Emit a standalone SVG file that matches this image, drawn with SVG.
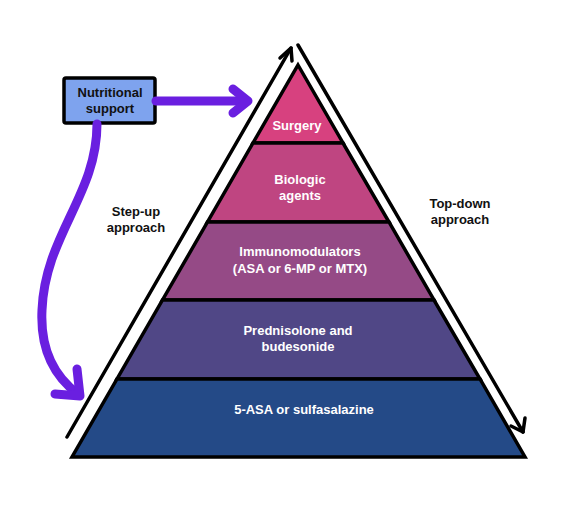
<svg xmlns="http://www.w3.org/2000/svg" width="587" height="519" viewBox="0 0 587 519">
<defs>
<style>
.lbl{font-family:"Liberation Sans",Arial,sans-serif;font-weight:bold;font-size:13px;text-anchor:middle}
.w{fill:#ffffff}
.k{fill:#111111}
.layer{stroke:#000;stroke-width:3.5;stroke-linejoin:miter}
.conn{fill:none;stroke:#000;stroke-width:3.5;stroke-linecap:round;stroke-linejoin:round}
.purple{fill:none;stroke:#6a1fe0;stroke-width:9;stroke-linecap:round;stroke-linejoin:round}
</style>
</defs>
<rect width="587" height="519" fill="#ffffff"/>
<g id="pyramid">
<g id="surgery">
<polygon class="layer" fill="#d7417f" points="298,65 343,143 253,143"/>
<text class="lbl w" x="297" y="130">Surgery</text>
</g>
<g id="biologic">
<polygon class="layer" fill="#bf4581" points="253,143 343,143 389,222 207.5,222"/>
<text class="lbl w" x="300" y="184">Biologic</text>
<text class="lbl w" x="300" y="200">agents</text>
</g>
<g id="immuno">
<polygon class="layer" fill="#954a86" points="207.5,222 389,222 434,300 162.5,300"/>
<text class="lbl w" x="300" y="256">Immunomodulators</text>
<text class="lbl w" x="300" y="273">(ASA or 6-MP or MTX)</text>
</g>
<g id="prednisolone">
<polygon class="layer" fill="#504786" points="162.5,300 434,300 480,379 117,379"/>
<text class="lbl w" x="298" y="335">Prednisolone and</text>
<text class="lbl w" x="298" y="351">budesonide</text>
</g>
<g id="asa">
<polygon class="layer" fill="#244a87" points="117,379 480,379 525,457 72,457"/>
<text class="lbl w" x="304" y="414">5-ASA or sulfasalazine</text>
</g>
</g>
<g id="nutritional">
<rect x="64" y="78" width="91" height="45" rx="2" fill="#7ea3ee" stroke="#000" stroke-width="3.5"/>
<text class="lbl k" x="110" y="97">Nutritional</text>
<text class="lbl k" x="110" y="113">support</text>
</g>
<g id="stepup-label">
<text class="lbl k" x="136" y="216">Step-up</text>
<text class="lbl k" x="136" y="232">approach</text>
</g>
<g id="topdown-label">
<text class="lbl k" x="460" y="208">Top-down</text>
<text class="lbl k" x="460" y="224">approach</text>
</g>
<g id="connectors">
<path class="conn" d="M67,437 L291,48"/>
<path class="conn" d="M280,58 L291,48 L292,61"/>
<path class="conn" d="M298,45 L523,432"/>
<path class="conn" d="M511,426 L523,432 L525,418"/>
<path class="purple" d="M156,101 L247,101"/>
<path class="purple" d="M233,89 L248,101 L233,113"/>
<path class="purple" d="M97,124 C97,195 45,235 42,310 C40,350 55,377 78,394"/>
<path class="purple" d="M77,369 L80,396 L55,394"/>
</g>
</svg>
